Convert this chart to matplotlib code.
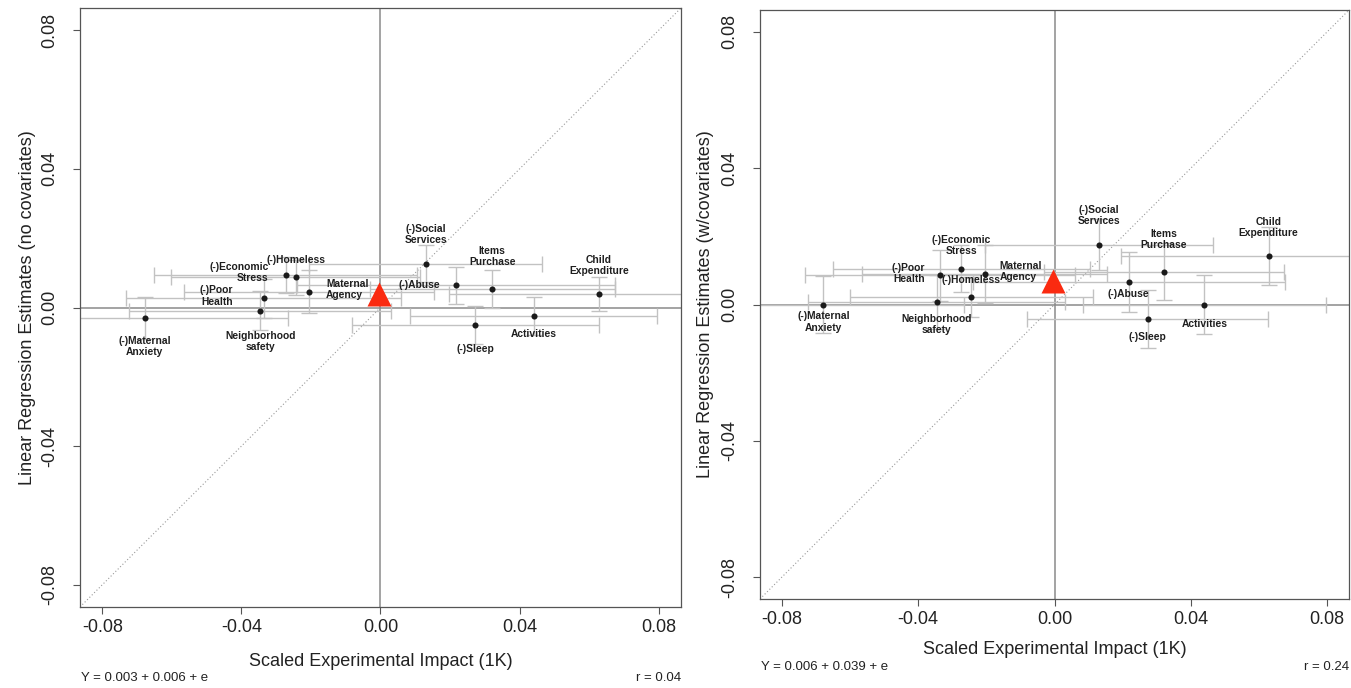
import matplotlib
matplotlib.use("Agg")
import matplotlib.pyplot as plt

plt.rcParams['font.family'] = ['Liberation Sans', 'DejaVu Sans']

# ---------------- data ----------------
labels = ["(-)Maternal\nAnxiety", "Neighborhood\nsafety", "(-)Poor\nHealth",
          "(-)Economic\nStress", "(-)Homeless", "Maternal\nAgency",
          "(-)Social\nServices", "(-)Abuse", "Items\nPurchase",
          "Child\nExpenditure", "Activities", "(-)Sleep"]

impact_x = [-0.0678, -0.0346, -0.0336, -0.0273, -0.0244, -0.0205,
            0.0130, 0.0218, 0.0321, 0.0628, 0.0440, 0.0273]
impact_x_ci = [0.0413, 0.0376, 0.0395, 0.0377, 0.0357, 0.0359,
               0.0335, 0.0457, 0.0352, 0.0432, 0.0356, 0.0354]

est_nocov = [-0.0031, -0.0009, 0.0026, 0.0094, 0.0087, 0.0046,
             0.0126, 0.0064, 0.0054, 0.0038, -0.0024, -0.0050]
est_nocov_ci = [0.0061, 0.0057, 0.0056, 0.0053, 0.0050, 0.0063,
                0.0053, 0.0054, 0.0054, 0.0049, 0.0054, 0.0054]

est_cov = [0.0000, 0.0008, 0.0086, 0.0105, 0.0022, 0.0090,
           0.0176, 0.0067, 0.0096, 0.0142, 0.0000, -0.0042]
est_cov_ci = [0.0085, 0.0080, 0.0075, 0.0069, 0.0060, 0.0085,
              0.0076, 0.0088, 0.0084, 0.0086, 0.0088, 0.0085]

mean_nocov = (-0.0005, 0.0040)
mean_cov = (-0.0005, 0.0068)

tick_values = [-0.08, -0.04, 0.00, 0.04, 0.08]
tick_labels = ["-0.08", "-0.04", "0.00", "0.04", "0.08"]

eq_nocov, r_nocov = "Y = 0.003 + 0.006 + e", "r = 0.04"
eq_cov, r_cov = "Y = 0.006 + 0.039 + e", "r = 0.24"

# label placement (ha, dx px, dy px downward)
layout_nocov = [("center", 0, 28), ("center", 0, 31), ("right", -31, -2.5),
                ("right", -17, -2.5), ("center", 0, -17.5), ("left", 17, -2),
                ("center", 0, -29), ("right", -16, 0), ("center", 0, -32),
                ("center", 0, -29), ("center", 0, 18), ("center", 0, 24)]
layout_cov = [("center", 0, 17.5), ("center", 0, 23), ("right", -15, -1.7),
              ("center", 0, -23.6), ("center", 0, -17.3), ("left", 15, -2),
              ("center", 0, -28.8), ("center", 0, 12.5), ("center", 0, -32),
              ("center", 0, -28.8), ("center", 0, 19), ("center", 0, 18.4)]

W, H = 1351, 688
fig = plt.figure(figsize=(W / 100, H / 100), dpi=100)
fig.patch.set_facecolor("white")

axL = fig.add_axes([80 / W, 1 - 607 / H, 601 / W, 599 / H])
axR = fig.add_axes([760 / W, 1 - 599 / H, 589 / W, 589 / H])

LIM = 0.0864


def panel(ax, yv, yci, mean, layout, ylabel, xlab_y, ylab_x, eq, r, text_y):
    ax.set_xlim(-LIM, LIM)
    ax.set_ylim(-LIM, LIM)
    ax.plot([-LIM, LIM], [-LIM, LIM], ls=(0, (1, 2)), color="#9a9a9a", lw=0.8, zorder=1)
    ax.axhline(0, color="#8a8a8a", lw=1.1, zorder=1.5)
    ax.axvline(0, color="#8a8a8a", lw=1.1, zorder=1.5)
    ax.errorbar(impact_x, yv, xerr=impact_x_ci, yerr=yci, fmt="none",
                ecolor="#c2c2c2", elinewidth=1.0, capsize=6, capthick=1.0, zorder=2)
    ax.plot(impact_x, yv, "o", color="#1a1a1a", ms=4.4, mec="none", zorder=4)
    ax.plot([mean[0]], [mean[1]], "^", color="#fa2a10", ms=17, mec="none", zorder=5)
    for lab, xv, yy, (ha, dx, dy) in zip(labels, impact_x, yv, layout):
        ax.annotate(lab, (xv, yy), xytext=(dx, -dy), textcoords="offset pixels",
                    ha=ha, va="center", multialignment=ha, fontsize=7.4,
                    fontweight="bold", color="#1e1e1e", linespacing=1.15, zorder=6)
    ax.set_xticks(tick_values)
    ax.set_xticklabels(tick_labels)
    ax.set_yticks(tick_values)
    ax.set_yticklabels(tick_labels, rotation=90, va="center")
    ax.tick_params(direction="out", length=5, width=0.8, color="#555555",
                   labelsize=13, labelcolor="#222222")
    ax.tick_params(axis="x", pad=4)
    ax.tick_params(axis="y", pad=10.5)
    for s in ax.spines.values():
        s.set_color("#555555")
        s.set_linewidth(0.9)
    ax.set_xlabel("Scaled Experimental Impact (1K)", fontsize=13, color="#222222")
    ax.set_ylabel(ylabel, fontsize=13, color="#222222")
    ax.xaxis.set_label_coords(0.5, xlab_y)
    ax.xaxis.label.set_va("center")
    ax.yaxis.set_label_coords(ylab_x, 0.5)
    ax.yaxis.label.set_va("center")
    bb = ax.get_position()
    fig.text(bb.x0 + 1 / W, 1 - text_y / H, eq, fontsize=9.5, va="center", ha="left",
             color="#222222", family=["Liberation Sans Narrow", "Liberation Sans"])
    fig.text(bb.x1, 1 - text_y / H, r, fontsize=9.5, va="center", ha="right",
             color="#222222", family=["Liberation Sans Narrow", "Liberation Sans"])


panel(axL, est_nocov, est_nocov_ci, mean_nocov, layout_nocov,
      "Linear Regression Estimates (no covariates)", -(661 - 607) / 599,
      (27 - 80) / 601, eq_nocov, r_nocov, 678)
panel(axR, est_cov, est_cov_ci, mean_cov, layout_cov,
      "Linear Regression Estimates (w/covariates)", -(649 - 599) / 589,
      (706 - 760) / 589, eq_cov, r_cov, 667)

fig.savefig("out.png", dpi=100)
